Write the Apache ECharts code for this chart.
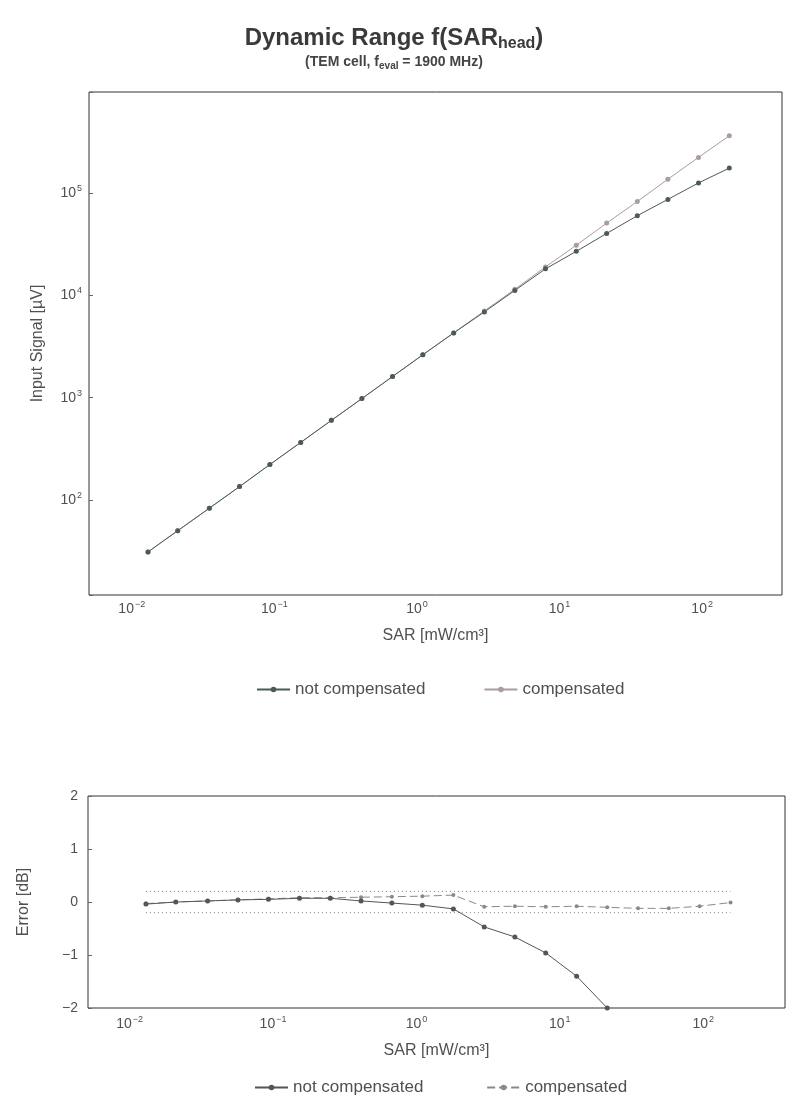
<!DOCTYPE html>
<html>
<head>
<meta charset="utf-8">
<script src="https://cdn.jsdelivr.net/npm/echarts@6/dist/echarts.min.js"></script>
<style>html,body{margin:0;padding:0;background:#fff;}#c{width:788px;height:1102px;}</style>
</head>
<body>
<div id="c"></div>
<script>
// SAR values [mW/cm^3]
var sar = [0.013, 0.021, 0.035, 0.057, 0.093, 0.153, 0.251, 0.411, 0.674, 1.10,
           1.81, 2.97, 4.86, 7.97, 13.1, 21.4, 35.1, 57.5, 94.3, 155];
// Input signal [µV]
var sigNotComp = [31, 50, 83, 135, 222, 365, 600, 980, 1610, 2630,
                  4300, 6900, 11200, 18200, 27000, 40400, 60300, 87000, 126000, 176000];
var sigComp = [31, 50, 83, 135, 222, 365, 600, 980, 1610, 2630,
               4300, 7050, 11500, 19000, 31000, 51000, 83000, 137000, 224000, 365000];
// Error [dB]
var errNotComp = [-0.04, 0.0, 0.02, 0.04, 0.05, 0.07, 0.07, 0.02, -0.02, -0.06,
                  -0.13, -0.47, -0.66, -0.96, -1.40, -2.0];
var errComp = [-0.03, 0.0, 0.02, 0.04, 0.06, 0.08, 0.08, 0.09, 0.10, 0.11,
               0.13, -0.09, -0.08, -0.09, -0.08, -0.10, -0.12, -0.12, -0.08, -0.01];
var tolerance = [0.2, -0.2];
var decadeLabels = [-2, -1, 0, 1, 2, 3, 4, 5];
var errTicks = [-2, -1, 0, 1, 2];

var FONT = '"Liberation Sans", Arial, sans-serif';
var C_NC = '#4b5a57';
var C_C = '#aa9ca1';
var TXT = '#505050';

function pairs(xs, ys) { return ys.map(function (v, i) { return [xs[i], v]; }); }
function sup(n) { return n < 0 ? '\u2212' + Math.abs(n) : String(n); }
function logLabel(v) {
  var e = Math.log10(v);
  var r = Math.round(e);
  if (Math.abs(e - r) > 1e-6 || decadeLabels.indexOf(r) < 0) return '';
  return '{b|10}{s|' + sup(r) + '}';
}
var richLab = {
  b: { fontSize: 14, color: TXT, fontFamily: FONT },
  s: { fontSize: 9, color: TXT, fontFamily: FONT, padding: [0, 0, 9, 1] }
};
var nameStyle = { fontSize: 16, color: TXT, fontFamily: FONT };
var legendText = { fontSize: 17, color: TXT, fontFamily: FONT };

var chart = echarts.init(document.getElementById('c'));
chart.setOption({
  backgroundColor: '#fff',
  animation: false,
  title: [{
    text: '{t|Dynamic Range f(SAR}{sub|head}{t|)}',
    left: 'center', top: 20,
    textStyle: { rich: {
      t: { fontSize: 24, fontWeight: 'bold', color: '#3a3a3a', fontFamily: FONT },
      sub: { fontSize: 16, fontWeight: 'bold', color: '#3a3a3a', fontFamily: FONT, padding: [11, 0, 0, 0] }
    } }
  }, {
    text: '{t|(TEM cell, f}{sub|eval}{t| = 1900 MHz)}',
    left: 'center', top: 49,
    textStyle: { rich: {
      t: { fontSize: 14, fontWeight: 'bold', color: '#444', fontFamily: FONT },
      sub: { fontSize: 10, fontWeight: 'bold', color: '#444', fontFamily: FONT, padding: [7, 0, 0, 0] }
    } }
  }],
  legend: [{
    data: ['not compensated', 'compensated'],
    top: 676, left: 251, itemGap: 58, itemWidth: 33, itemHeight: 7,
    textStyle: legendText
  }, {
    data: ['not compensated ', 'compensated '],
    top: 1074, left: 249, itemGap: 58, itemWidth: 33, itemHeight: 7,
    textStyle: legendText
  }],
  grid: [
    { left: 89, right: 6, top: 92, height: 503, show: true, borderColor: '#333', borderWidth: 1 },
    { left: 88, right: 3, top: 796, height: 212, show: true, borderColor: '#333', borderWidth: 1 }
  ],
  xAxis: [{
    type: 'log', logBase: 10, gridIndex: 0,
    min: Math.pow(10, -2.30), max: Math.pow(10, 2.56),
    name: 'SAR [mW/cm\u00b3]', nameLocation: 'middle', nameGap: 33, nameTextStyle: nameStyle,
    axisLine: { show: false }, axisTick: { show: false }, splitLine: { show: false },
    axisLabel: { formatter: logLabel, rich: richLab, margin: 5 }
  }, {
    type: 'log', logBase: 10, gridIndex: 1,
    min: Math.pow(10, -2.29), max: Math.pow(10, 2.57),
    name: 'SAR [mW/cm\u00b3]', nameLocation: 'middle', nameGap: 35, nameTextStyle: nameStyle,
    axisLine: { show: false }, axisTick: { show: false }, splitLine: { show: false },
    axisLabel: { formatter: logLabel, rich: richLab, margin: 7 }
  }],
  yAxis: [{
    type: 'log', logBase: 10, gridIndex: 0,
    min: Math.pow(10, 1.07), max: Math.pow(10, 5.99),
    name: 'Input Signal [\u00b5V]', nameLocation: 'middle', nameGap: 43, nameTextStyle: nameStyle,
    axisLine: { show: false }, splitLine: { show: false },
    axisTick: { show: true, inside: true, length: 4, lineStyle: { color: '#666' } },
    axisLabel: { formatter: logLabel, rich: richLab, margin: 7 }
  }, {
    type: 'value', gridIndex: 1, min: -2, max: 2, interval: 1,
    name: 'Error [dB]', nameLocation: 'middle', nameGap: 56, nameTextStyle: nameStyle,
    axisLine: { show: false }, splitLine: { show: false },
    axisTick: { show: true, inside: true, length: 4, lineStyle: { color: '#666' } },
    axisLabel: {
      fontSize: 14, color: TXT, fontFamily: FONT, margin: 10,
      formatter: function (v) { return errTicks.indexOf(v) >= 0 ? sup(v) : ''; }
    }
  }],
  series: [{
    name: 'compensated', type: 'line', xAxisIndex: 0, yAxisIndex: 0,
    data: pairs(sar, sigComp), symbol: 'circle', symbolSize: 5,
    lineStyle: { color: C_C, width: 1 }, itemStyle: { color: C_C }
  }, {
    name: 'not compensated', type: 'line', xAxisIndex: 0, yAxisIndex: 0,
    data: pairs(sar, sigNotComp), symbol: 'circle', symbolSize: 5,
    lineStyle: { color: C_NC, width: 1 }, itemStyle: { color: C_NC }
  }, {
    name: 'tol+', type: 'line', xAxisIndex: 1, yAxisIndex: 1, silent: true,
    data: [[sar[0], tolerance[0]], [sar[sar.length - 1], tolerance[0]]], symbol: 'none',
    lineStyle: { color: '#888', width: 1, type: [1, 3] }
  }, {
    name: 'tol-', type: 'line', xAxisIndex: 1, yAxisIndex: 1, silent: true,
    data: [[sar[0], tolerance[1]], [sar[sar.length - 1], tolerance[1]]], symbol: 'none',
    lineStyle: { color: '#888', width: 1, type: [1, 3] }
  }, {
    name: 'compensated ', type: 'line', xAxisIndex: 1, yAxisIndex: 1,
    data: pairs(sar, errComp), symbol: 'circle', symbolSize: 4,
    lineStyle: { color: '#8a8a8a', width: 1, type: [8, 4] }, itemStyle: { color: '#8a8a8a' }
  }, {
    name: 'not compensated ', type: 'line', xAxisIndex: 1, yAxisIndex: 1,
    data: pairs(sar, errNotComp), symbol: 'circle', symbolSize: 5,
    lineStyle: { color: '#555', width: 1 }, itemStyle: { color: '#555' }
  }]
});
</script>
</body>
</html>
